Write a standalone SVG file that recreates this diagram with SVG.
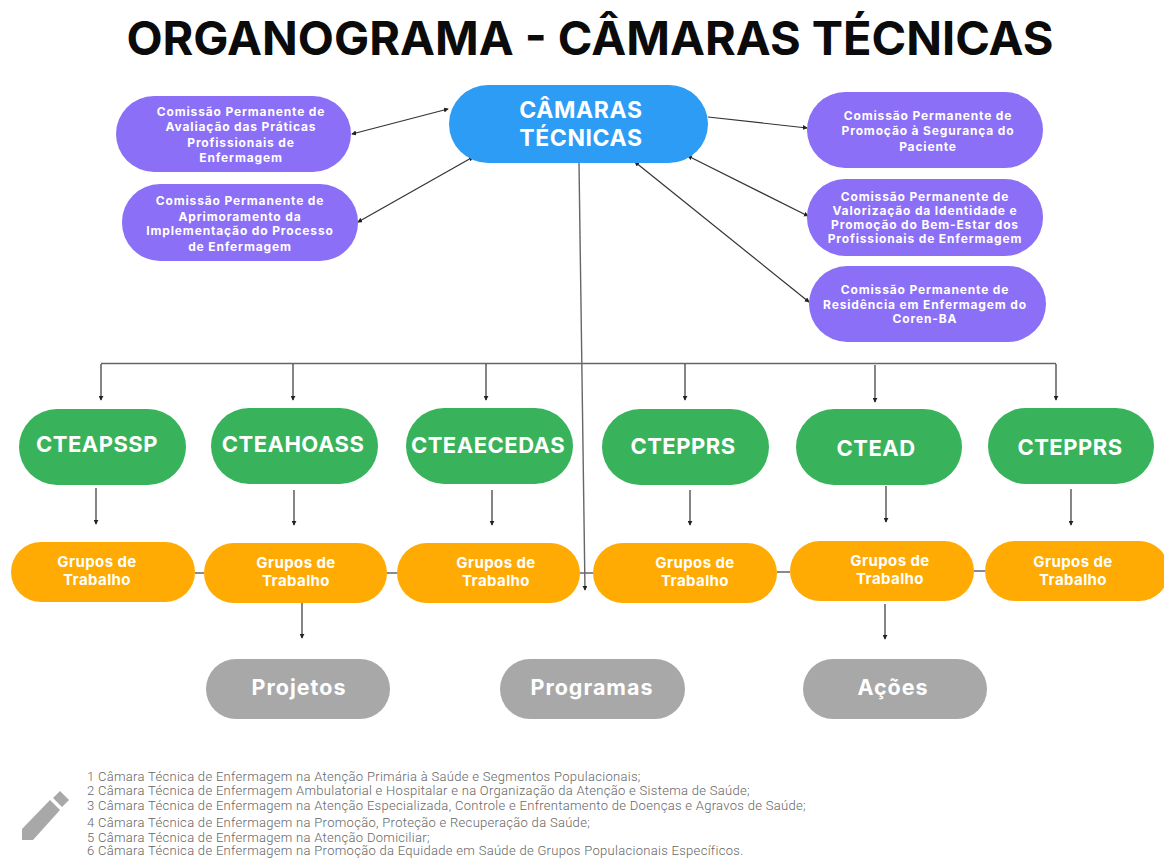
<svg xmlns="http://www.w3.org/2000/svg" width="1164" height="859" viewBox="0 0 1164 859">
<style>
text{font-family:Inter,"Liberation Sans",sans-serif;text-anchor:middle;fill:#fff;font-weight:700}
.title{fill:#0b0b0b;font-size:46.9px;font-weight:700}
.blue{fill:#2d9cf4}.pur{fill:#8b6ff7}.grn{fill:#38b35c}.org{fill:#ffab03}.gry{fill:#a8a8a8}
.t0{font-size:23px;letter-spacing:.6px}
.p{font-size:12px;letter-spacing:.85px}
.g{font-size:22px;letter-spacing:.5px}
.o{font-size:15px;letter-spacing:.4px}
.a{font-size:21.5px;letter-spacing:1px}
.n{font-family:Roboto,"Liberation Sans",sans-serif;font-weight:300;font-size:13px;letter-spacing:.3px;fill:#666;text-anchor:start}
.l{fill:none;stroke:#333;stroke-width:1.2}
.l2{fill:none;stroke:#666;stroke-width:1.4}
</style>
<defs>
<marker id="ah" viewBox="0 0 6 6" refX="5" refY="3" markerWidth="5" markerHeight="5" orient="auto-start-reverse" markerUnits="userSpaceOnUse"><path d="M0 0L6 3L0 6z" fill="#222"/></marker>
</defs>
<text class="title" x="590" y="55">ORGANOGRAMA - CÂMARAS TÉCNICAS</text>
<g id="connectors" class="conn">
<path class="l" marker-start="url(#ah)" marker-end="url(#ah)" d="M352 134L448 109"/>
<path class="l" marker-start="url(#ah)" marker-end="url(#ah)" d="M358 222L473 157"/>
<path class="l" marker-end="url(#ah)" d="M708 117L807 128"/>
<path class="l" marker-start="url(#ah)" marker-end="url(#ah)" d="M688 156L808 216"/>
<path class="l" marker-start="url(#ah)" marker-end="url(#ah)" d="M635 162L809 302"/>
<path class="l2" d="M101 363.5H1056"/>
<path class="l" marker-end="url(#ah)" d="M101 364V400"/>
<path class="l" marker-end="url(#ah)" d="M293 364V400"/>
<path class="l" marker-end="url(#ah)" d="M486 364V400"/>
<path class="l" marker-end="url(#ah)" d="M685 364V400"/>
<path class="l" marker-end="url(#ah)" d="M875 365V402"/>
<path class="l" marker-end="url(#ah)" d="M1056 364V400"/>
<path class="l2" marker-end="url(#ah)" d="M579 163L585 590"/>
<path class="l" marker-end="url(#ah)" d="M96 488V524"/>
<path class="l" marker-end="url(#ah)" d="M294 490V525"/>
<path class="l" marker-end="url(#ah)" d="M492 490V525"/>
<path class="l" marker-end="url(#ah)" d="M690 490V525"/>
<path class="l" marker-end="url(#ah)" d="M886 486V522"/>
<path class="l" marker-end="url(#ah)" d="M1071 489V525"/>
<path class="l2" d="M195 573H204M387 573H397M580 573H593M777 572H790M974 571H985"/>
<path class="l" marker-end="url(#ah)" d="M302 603V638"/>
<path class="l" marker-end="url(#ah)" d="M885 604V639"/>
</g>
<g id="camaras"><rect class="blue" x="449" y="85" width="259" height="78" rx="39"/><text class="t0" x="581" y="118">CÂMARAS</text><text class="t0" x="581" y="146">TÉCNICAS</text></g>
<g id="c1"><rect class="pur" x="116" y="96" width="235" height="76" rx="38"/><text class="p" x="241" y="116">Comissão Permanente de</text><text class="p" x="241" y="131">Avaliação das Práticas</text><text class="p" x="241" y="147">Profissionais de</text><text class="p" x="241" y="162">Enfermagem</text></g>
<g id="c2"><rect class="pur" x="122" y="184" width="236" height="77" rx="38"/><text class="p" x="240" y="205">Comissão Permanente de</text><text class="p" x="240" y="221">Aprimoramento da</text><text class="p" x="240" y="235">Implementação do Processo</text><text class="p" x="240" y="251">de Enfermagem</text></g>
<g id="c3"><rect class="pur" x="807" y="92" width="236" height="76" rx="38"/><text class="p" x="928" y="120">Comissão Permanente de</text><text class="p" x="928" y="135">Promoção à Segurança do</text><text class="p" x="928" y="151">Paciente</text></g>
<g id="c4"><rect class="pur" x="807" y="179" width="236" height="77" rx="38"/><text class="p" x="925" y="201">Comissão Permanente de</text><text class="p" x="925" y="215">Valorização da Identidade e</text><text class="p" x="925" y="229">Promoção do Bem-Estar dos</text><text class="p" x="925" y="243">Profissionais de Enfermagem</text></g>
<g id="c5"><rect class="pur" x="809" y="266" width="237" height="76" rx="38"/><text class="p" x="925" y="294">Comissão Permanente de</text><text class="p" x="925" y="309">Residência em Enfermagem do</text><text class="p" x="925" y="323">Coren-BA</text></g>
<g id="g1"><rect class="grn" x="19" y="409" width="167" height="76" rx="38"/><text class="g" x="97" y="452">CTEAPSSP</text></g>
<g id="g2"><rect class="grn" x="211" y="408" width="167" height="76" rx="38"/><text class="g" x="293" y="452">CTEAHOASS</text></g>
<g id="g3"><rect class="grn" x="406" y="408" width="167" height="76" rx="38"/><text class="g" x="488" y="453">CTEAECEDAS</text></g>
<g id="g4"><rect class="grn" x="602" y="409" width="167" height="76" rx="38"/><text class="g" x="683" y="454">CTEPPRS</text></g>
<g id="g5"><rect class="grn" x="796" y="409" width="166" height="76" rx="38"/><text class="g" x="876" y="456">CTEAD</text></g>
<g id="g6"><rect class="grn" x="988" y="408" width="166" height="76" rx="38"/><text class="g" x="1070" y="455">CTEPPRS</text></g>
<g id="o1"><rect class="org" x="11" y="542" width="184" height="60" rx="30"/><text class="o" x="97" y="567">Grupos de</text><text class="o" x="97" y="585">Trabalho</text></g>
<g id="o2"><rect class="org" x="204" y="543" width="183" height="60" rx="30"/><text class="o" x="296" y="568">Grupos de</text><text class="o" x="296" y="586">Trabalho</text></g>
<g id="o3"><rect class="org" x="397" y="543" width="183" height="60" rx="30"/><text class="o" x="496" y="568">Grupos de</text><text class="o" x="496" y="586">Trabalho</text></g>
<g id="o4"><rect class="org" x="593" y="543" width="184" height="60" rx="30"/><text class="o" x="695" y="568">Grupos de</text><text class="o" x="695" y="586">Trabalho</text></g>
<g id="o5"><rect class="org" x="790" y="541" width="184" height="60" rx="30"/><text class="o" x="890" y="566">Grupos de</text><text class="o" x="890" y="584">Trabalho</text></g>
<g id="o6"><rect class="org" x="985" y="541" width="184" height="60" rx="30"/><text class="o" x="1073" y="567">Grupos de</text><text class="o" x="1073" y="585">Trabalho</text></g>
<g id="projetos"><rect class="gry" x="206" y="659" width="184" height="60" rx="30"/><text class="a" x="299" y="695">Projetos</text></g>
<g id="programas"><rect class="gry" x="500" y="659" width="185" height="60" rx="30"/><text class="a" x="592" y="695">Programas</text></g>
<g id="acoes"><rect class="gry" x="803" y="659" width="184" height="60" rx="30"/><text class="a" x="893" y="695">Ações</text></g>
<g id="notas">
<text class="n" x="87" y="781">1 Câmara Técnica de Enfermagem na Atenção Primária à Saúde e Segmentos Populacionais;</text>
<text class="n" x="87" y="795">2 Câmara Técnica de Enfermagem Ambulatorial e Hospitalar e na Organização da Atenção e Sistema de Saúde;</text>
<text class="n" x="87" y="810">3 Câmara Técnica de Enfermagem na Atenção Especializada, Controle e Enfrentamento de Doenças e Agravos de Saúde;</text>
<text class="n" x="87" y="827">4 Câmara Técnica de Enfermagem na Promoção, Proteção e Recuperação da Saúde;</text>
<text class="n" x="87" y="842">5 Câmara Técnica de Enfermagem na Atenção Domiciliar;</text>
<text class="n" x="87" y="855">6 Câmara Técnica de Enfermagem na Promoção da Equidade em Saúde de Grupos Populacionais Específicos.</text>
</g>
<g id="lapis" fill="#a8a8a8"><path d="M53 798L60 791L69 800L62 807z"/><path d="M50 800L60 810L33 840H22V829z"/></g>
</svg>
